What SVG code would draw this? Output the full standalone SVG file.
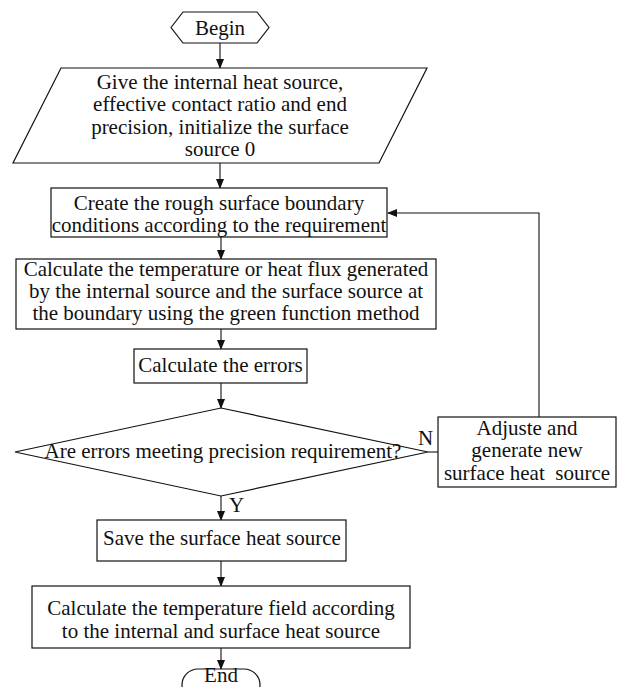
<svg xmlns="http://www.w3.org/2000/svg" width="621" height="687" viewBox="0 0 621 687">
<style>
.s{fill:#fff;stroke:#111;stroke-width:1.2}
.t{font-family:"Liberation Serif","Times New Roman",serif;font-size:21px;fill:#111;text-anchor:middle}
.l{font-family:"Liberation Serif","Times New Roman",serif;font-size:21px;fill:#111}
.c{fill:none;stroke:#111;stroke-width:1.1}
</style>
<defs>
<marker id="a" markerWidth="10" markerHeight="8" refX="9" refY="4" orient="auto" markerUnits="userSpaceOnUse">
<path d="M0,0 L10,4 L0,8 Z" fill="#111"/>
</marker>
</defs>
<rect width="621" height="687" fill="#fff"/>
<g id="connectors">
<line class="c" x1="220" y1="43" x2="220" y2="68" marker-end="url(#a)"/>
<line class="c" x1="220" y1="163" x2="220" y2="188" marker-end="url(#a)"/>
<line class="c" x1="221" y1="237" x2="221" y2="259" marker-end="url(#a)"/>
<line class="c" x1="221" y1="329" x2="221" y2="349" marker-end="url(#a)"/>
<line class="c" x1="221" y1="383" x2="221" y2="408" marker-end="url(#a)"/>
<line class="c" x1="221" y1="496" x2="221" y2="520" marker-end="url(#a)"/>
<line class="c" x1="221" y1="561" x2="221" y2="586" marker-end="url(#a)"/>
<line class="c" x1="221" y1="648" x2="221" y2="669" marker-end="url(#a)"/>
<line class="c" x1="428" y1="452" x2="438" y2="452"/>
<polyline class="c" points="539,417 539,213 388,213" marker-end="url(#a)"/>
<text class="l" x="418" y="445">N</text>
<text class="l" x="229" y="512">Y</text>
</g>
<g id="begin">
<polygon class="s" points="171,27.5 183,12 257,12 269,27.5 257,43 183,43"/>
<text class="t" x="220" y="35">Begin</text>
</g>
<g id="input">
<polygon class="s" points="61,68 427,68 379,163 13,163"/>
<text class="t" x="220" y="89">Give the internal heat source,</text>
<text class="t" x="220" y="111">effective contact ratio and end</text>
<text class="t" x="220" y="134">precision, initialize the surface</text>
<text class="t" x="220" y="156">source 0</text>
</g>
<g id="create">
<rect class="s" x="51" y="188" width="336" height="49"/>
<text class="t" x="219" y="210">Create the rough surface boundary</text>
<text class="t" x="219" y="232">conditions according to the requirement</text>
</g>
<g id="calcflux">
<rect class="s" x="16" y="259" width="420" height="70"/>
<text class="t" x="226" y="276">Calculate the temperature or heat flux generated</text>
<text class="t" x="226" y="298">by the internal source and the surface source at</text>
<text class="t" x="226" y="320">the boundary using the green function method</text>
</g>
<g id="errors">
<rect class="s" x="134" y="349" width="173" height="34"/>
<text class="t" x="220.5" y="372">Calculate the errors</text>
</g>
<g id="decision">
<polygon class="s" points="221,408 428,452 221,496 15,452"/>
<text class="t" x="223" y="458">Are errors meeting precision requirement?</text>
</g>
<g id="adjust">
<rect class="s" x="438" y="417" width="178" height="70"/>
<text class="t" x="527" y="435">Adjuste and</text>
<text class="t" x="527" y="457">generate new</text>
<text class="t" x="527" y="480" xml:space="preserve">surface heat  source</text>
</g>
<g id="save">
<rect class="s" x="97" y="520" width="249" height="41"/>
<text class="t" x="222" y="545">Save the surface heat source</text>
</g>
<g id="calcfield">
<rect class="s" x="32" y="586" width="378" height="62"/>
<text class="t" x="221" y="615">Calculate the temperature field according</text>
<text class="t" x="221" y="638">to the internal and surface heat source</text>
</g>
<g id="end">
<rect class="s" x="182" y="669" width="78" height="32" rx="16"/>
<text class="t" x="221" y="682" font-size="19">End</text>
</g>
</svg>
